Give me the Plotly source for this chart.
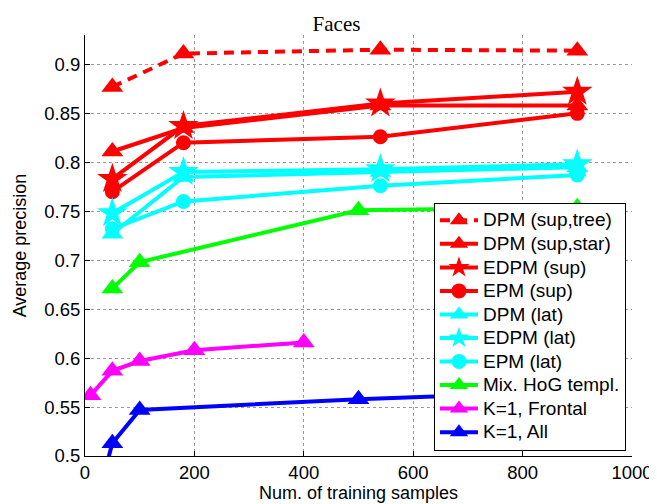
import plotly.graph_objects as go

# ---- data ----
x_sup = [50, 180, 540, 900]
dpm_sup_tree = [0.877, 0.911, 0.915, 0.914]
dpm_sup_star = [0.811, 0.835, 0.858, 0.858]
edpm_sup = [0.783, 0.837, 0.860, 0.872]
epm_sup = [0.770, 0.820, 0.826, 0.850]
dpm_lat = [0.727, 0.785, 0.790, 0.795]
edpm_lat = [0.748, 0.790, 0.793, 0.798]
epm_lat = [0.732, 0.760, 0.776, 0.787]
x_mix = [50, 100, 500, 900]
mix_hog = [0.671, 0.698, 0.751, 0.754]
x_frontal = [10, 50, 100, 200, 400]
k1_frontal = [0.562, 0.587, 0.597, 0.608, 0.616]
x_all = [10, 50, 100, 500, 900]
k1_all = [0.43, 0.513, 0.547, 0.558, 0.566]

x_ticks = [0, 200, 400, 600, 800, 1000]
y_ticks = [0.5, 0.55, 0.6, 0.65, 0.7, 0.75, 0.8, 0.85, 0.9]

RED, CYAN, GREEN, MAG, BLUE = "#ff0000", "#00ffff", "#00ff00", "#ff00ff", "#0000ff"

series = [
    ("DPM (sup,tree)", x_sup, dpm_sup_tree, RED, "triangle-up", 19, "10px,7px"),
    ("DPM (sup,star)", x_sup, dpm_sup_star, RED, "triangle-up", 19, "solid"),
    ("EDPM (sup)", x_sup, edpm_sup, RED, "star", 23, "solid"),
    ("EPM (sup)", x_sup, epm_sup, RED, "circle", 15, "solid"),
    ("DPM (lat)", x_sup, dpm_lat, CYAN, "triangle-up", 19, "solid"),
    ("EDPM (lat)", x_sup, edpm_lat, CYAN, "star", 23, "solid"),
    ("EPM (lat)", x_sup, epm_lat, CYAN, "circle", 15, "solid"),
    ("Mix. HoG templ.", x_mix, mix_hog, GREEN, "triangle-up", 19, "solid"),
    ("K=1, Frontal", x_frontal, k1_frontal, MAG, "triangle-up", 19, "solid"),
    ("K=1, All", x_all, k1_all, BLUE, "triangle-up", 19, "solid"),
]

fig = go.Figure()
for name, xs, ys, col, sym, sz, dash in series:
    fig.add_trace(go.Scatter(
        x=xs, y=ys, name=f'<span style="font-size:19px">{name}</span>',
        mode="lines+markers",
        line=dict(color=col, width=4, dash=dash),
        marker=dict(color=col, symbol=sym, size=sz, line=dict(width=0)),
        cliponaxis=True,
    ))

font = "Liberation Sans, Arial, Helvetica, sans-serif"
fig.update_layout(
    width=657, height=504,
    margin=dict(l=77, r=31, t=27, b=45),
    paper_bgcolor="white", plot_bgcolor="white",
    font=dict(family=font, size=18, color="black"),
    title=dict(text="Faces", x=0.5, xanchor="center", y=0.968, yanchor="middle",
               font=dict(family="Liberation Serif, Times New Roman, serif", size=21, color="black")),
    legend=dict(x=0.989, y=0.013, xanchor="right", yanchor="bottom",
                bgcolor="white", bordercolor="black", borderwidth=1,
                font=dict(family=font, size=15.8, color="black"),
                tracegroupgap=0, itemwidth=38),
    showlegend=True,
)
fig.update_xaxes(
    range=[0, 1000], tickvals=x_ticks, ticktext=[str(v) for v in x_ticks],
    showline=True, linecolor="black", linewidth=1, mirror=False,
    ticks="inside", ticklen=5, tickcolor="black",
    showgrid=True, gridcolor="#999999", griddash="dot", gridwidth=1,
    zeroline=False, tickfont=dict(size=18.5),
    title=dict(text="Num. of training samples", standoff=4, font=dict(size=18)),
)
fig.update_yaxes(
    range=[0.5, 0.93], tickvals=y_ticks, ticktext=[f"{v:g}" for v in y_ticks],
    showline=True, linecolor="black", linewidth=1, mirror=False,
    ticks="inside", ticklen=5, tickcolor="black",
    showgrid=True, gridcolor="#999999", griddash="dot", gridwidth=1,
    zeroline=False, tickfont=dict(size=18.5),
    title=dict(text="Average precision", standoff=12, font=dict(size=18)),
)

fig.write_html("out.html")
